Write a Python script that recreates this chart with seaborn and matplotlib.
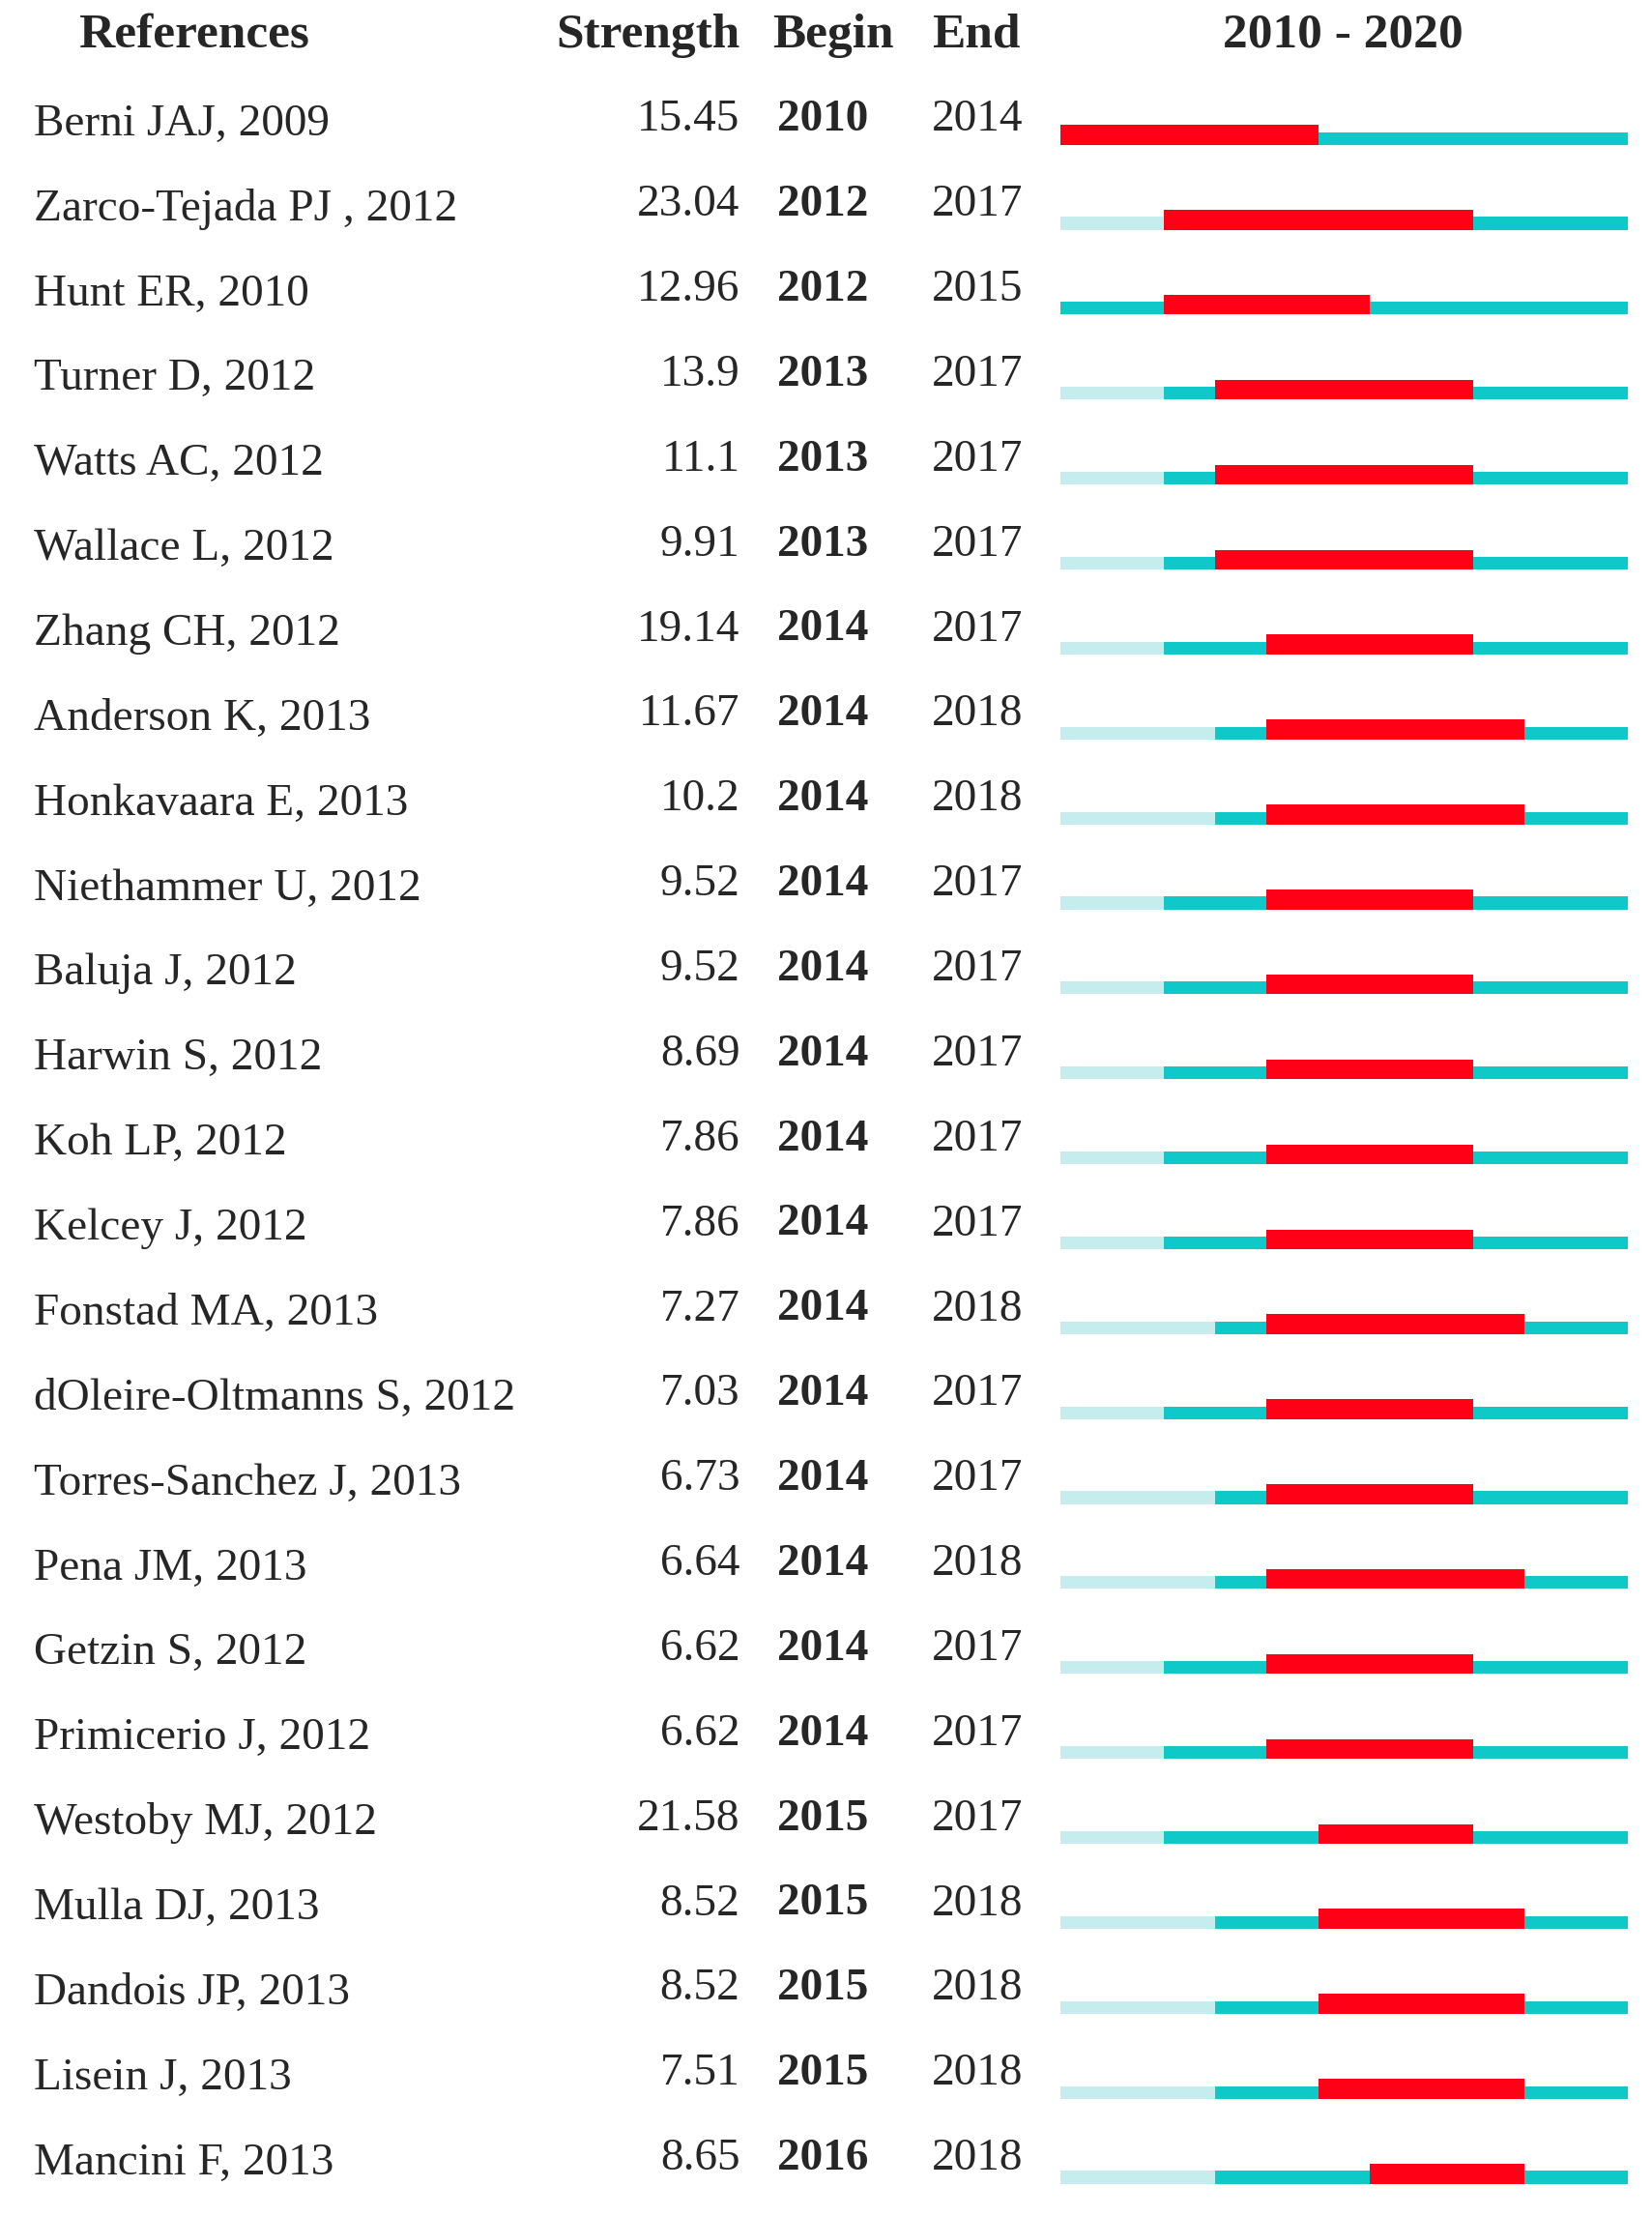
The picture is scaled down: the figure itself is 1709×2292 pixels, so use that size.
import numpy as np
import pandas as pd
import seaborn as sns
import matplotlib.pyplot as plt

sns.set_style("white")
plt.rcParams['font.family'] = ['Liberation Serif', 'DejaVu Serif']

refs = ["Berni JAJ, 2009", "Zarco-Tejada PJ , 2012", "Hunt ER, 2010", "Turner D, 2012",
        "Watts AC, 2012", "Wallace L, 2012", "Zhang CH, 2012", "Anderson K, 2013",
        "Honkavaara E, 2013", "Niethammer U, 2012", "Baluja J, 2012", "Harwin S, 2012",
        "Koh LP, 2012", "Kelcey J, 2012", "Fonstad MA, 2013", "dOleire-Oltmanns S, 2012",
        "Torres-Sanchez J, 2013", "Pena JM, 2013", "Getzin S, 2012", "Primicerio J, 2012",
        "Westoby MJ, 2012", "Mulla DJ, 2013", "Dandois JP, 2013", "Lisein J, 2013",
        "Mancini F, 2013"]
pub_year = [2009, 2012, 2010, 2012, 2012, 2012, 2012, 2013, 2013, 2012, 2012, 2012, 2012,
            2012, 2013, 2012, 2013, 2013, 2012, 2012, 2012, 2013, 2013, 2013, 2013]
strength = ["15.45", "23.04", "12.96", "13.9", "11.1", "9.91", "19.14", "11.67", "10.2",
            "9.52", "9.52", "8.69", "7.86", "7.86", "7.27", "7.03", "6.73", "6.64", "6.62",
            "6.62", "21.58", "8.52", "8.52", "7.51", "8.65"]
begin = [2010, 2012, 2012, 2013, 2013, 2013, 2014, 2014, 2014, 2014, 2014, 2014, 2014,
         2014, 2014, 2014, 2014, 2014, 2014, 2014, 2015, 2015, 2015, 2015, 2016]
end = [2014, 2017, 2015, 2017, 2017, 2017, 2017, 2018, 2018, 2017, 2017, 2017, 2017,
       2017, 2018, 2017, 2017, 2018, 2017, 2017, 2017, 2018, 2018, 2018, 2018]
first_year, last_year = 2010, 2020

W, H = 1170, 1569
fig = plt.figure(figsize=(17.09, 22.92), dpi=100)
ax = fig.add_axes([0, 0, 1, 1])
ax.set_xlim(0, W)
ax.set_ylim(H, 0)
ax.axis('off')

x0, x1 = 751, 1153
yw = (x1 - x0) / (last_year - first_year + 1)
def yx(y):
    return x0 + (y - first_year) * yw

light, teal, red = '#c6eded', '#0fc9c9', '#ff0016'
fs = 34
hfs = 37

hdr_y = 25
ax.text(137, hdr_y, "References", ha='center', va='center', fontsize=hfs, fontweight='bold')
ax.text(524, hdr_y, "Strength", ha='right', va='center', fontsize=hfs, fontweight='bold')
ax.text(590, hdr_y, "Begin", ha='center', va='center', fontsize=hfs, fontweight='bold')
ax.text(691, hdr_y, "End", ha='center', va='center', fontsize=hfs, fontweight='bold')
ax.text(951, hdr_y, f"{first_year} - {last_year}", ha='center', va='center', fontsize=hfs, fontweight='bold')

for i, r in enumerate(refs):
    ty = 85 + 60.15 * i
    ax.text(24, ty + 3, r, ha='left', va='center', fontsize=fs)
    ax.text(524, ty, strength[i], ha='right', va='center', fontsize=fs)
    ax.text(583, ty, str(begin[i]), ha='center', va='center', fontsize=fs, fontweight='bold')
    ax.text(692, ty, str(end[i]), ha='center', va='center', fontsize=fs)
    by = ty + 13
    p = max(pub_year[i], first_year)
    if p > first_year:
        ax.barh(by, yx(p) - x0, left=x0, height=9, color=light, linewidth=0)
    ax.barh(by, x1 - yx(p), left=yx(p), height=9, color=teal, linewidth=0)
    ax.barh(by - 2.5, yx(end[i] + 1) - yx(begin[i]), left=yx(begin[i]), height=14,
            color=red, linewidth=0)

fig.savefig('out.png', dpi=100)
